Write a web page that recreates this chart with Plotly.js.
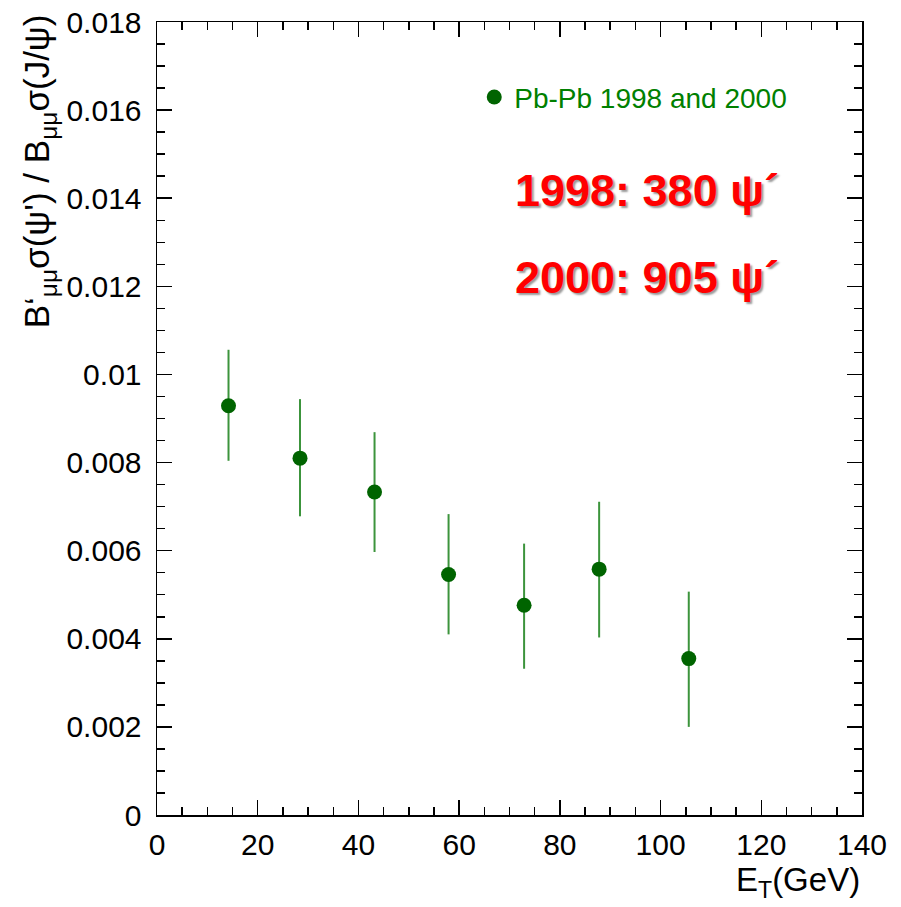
<!DOCTYPE html>
<html>
<head>
<meta charset="utf-8">
<script src="https://cdn.plot.ly/plotly-3.0.1.min.js"></script>
<style>html,body{margin:0;padding:0;background:#fff;}#chart{width:901px;height:907px;}</style>
</head>
<body>
<div id="chart"></div>
<script>
// Data
const seriesName = 'Pb-Pb 1998 and 2000';
const et = [14.2, 28.4, 43.2, 57.9, 72.9, 87.8, 105.6];
const ratio = [0.00929, 0.00810, 0.00733, 0.00546, 0.00476, 0.00558, 0.00355];
const errPlus = [0.00127, 0.00134, 0.00136, 0.00137, 0.00140, 0.00153, 0.00152];
const errMinus = [0.00125, 0.00132, 0.00136, 0.00136, 0.00144, 0.00155, 0.00155];
const xRange = [0, 140];
const yRange = [0, 0.018];
const yTickVals = [0, 0.002, 0.004, 0.006, 0.008, 0.01, 0.012, 0.014, 0.016, 0.018];
const yTickText = ['0', '0.002', '0.004', '0.006', '0.008', '0.01', '0.012', '0.014', '0.016', '0.018'];
const xTickVals = [0, 20, 40, 60, 80, 100, 120, 140];
const xTickText = ['0', '20', '40', '60', '80', '100', '120', '140'];
const note1 = '1998: 380 ψ´';
const note2 = '2000: 905 ψ´';
const yTitle = 'B‘<sub>μμ</sub>σ(ψ\') / B<sub>μμ</sub>σ(J/ψ)';
const xTitle = 'E<sub>T</sub>(GeV)';

const font = 'Liberation Sans, Arial, sans-serif';

const trace = {
  x: et, y: ratio, type: 'scatter', mode: 'markers', name: seriesName,
  marker: {color: '#006400', size: 15},
  error_y: {type: 'data', symmetric: false, array: errPlus, arrayminus: errMinus,
            color: '#3c943c', thickness: 2, width: 0}
};

const axisCommon = {
  showgrid: false, zeroline: false, showline: true, linecolor: '#000', linewidth: 1.5,
  mirror: 'ticks', ticks: 'inside', ticklen: 15, tickwidth: 1.5, tickcolor: '#000',
  tickfont: {family: font, size: 30, color: '#000'}
};

const layout = {
  width: 901, height: 907,
  margin: {l: 157, r: 39, t: 22, b: 92},
  paper_bgcolor: '#fff', plot_bgcolor: '#fff',
  showlegend: true,
  legend: {x: 0.45, y: 0.905, xanchor: 'left', yanchor: 'middle',
           bgcolor: 'rgba(0,0,0,0)', font: {family: font, size: 28, color: '#008000'},
           itemwidth: 30},
  xaxis: Object.assign({}, axisCommon, {
    range: xRange, tickmode: 'array', tickvals: xTickVals, ticktext: xTickText,
    minor: {dtick: 5, ticks: 'inside', ticklen: 8, tickwidth: 1.5, tickcolor: '#000'},
    ticklabelstandoff: 2
  }),
  yaxis: Object.assign({}, axisCommon, {
    range: yRange, tickmode: 'array', tickvals: yTickVals, ticktext: yTickText,
    minor: {dtick: 0.0005, ticks: 'inside', ticklen: 8, tickwidth: 1.5, tickcolor: '#000'},
    ticklabelstandoff: 8
  }),
  annotations: [
    {xref: 'paper', yref: 'paper', x: 0.505, y: 0.788, xanchor: 'left', yanchor: 'middle',
     text: '<b>' + note1 + '</b>', showarrow: false,
     font: {family: font, size: 45, color: '#ff0000', shadow: '2px 2px 2px #999'}},
    {xref: 'paper', yref: 'paper', x: 0.505, y: 0.678, xanchor: 'left', yanchor: 'middle',
     text: '<b>' + note2 + '</b>', showarrow: false,
     font: {family: font, size: 45, color: '#ff0000', shadow: '2px 2px 2px #999'}},
    {xref: 'paper', yref: 'paper', x: -0.167, y: 1.0126, xanchor: 'center', yanchor: 'top',
     textangle: -90, text: yTitle, showarrow: false,
     font: {family: font, size: 35, color: '#000'}},
    {xref: 'paper', yref: 'paper', x: 1.0, y: -0.055, xanchor: 'right', yanchor: 'top',
     text: xTitle, showarrow: false,
     font: {family: font, size: 33, color: '#000'}}
  ]
};

Plotly.newPlot('chart', [trace], layout, {displayModeBar: false, staticPlot: true});
</script>
</body>
</html>
